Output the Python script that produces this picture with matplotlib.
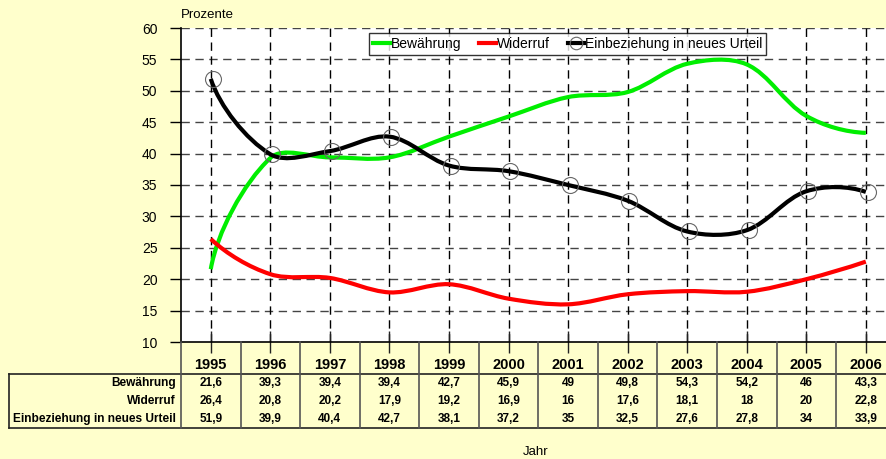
import matplotlib
matplotlib.use('Agg')
import matplotlib.pyplot as plt
from matplotlib.path import Path
from matplotlib.patches import PathPatch
from matplotlib.lines import Line2D
import numpy as np

plt.rcParams['font.family'] = ['Liberation Sans', 'DejaVu Sans']

years = ['1995', '1996', '1997', '1998', '1999', '2000', '2001', '2002', '2003', '2004', '2005', '2006']
bewaehrung = [21.6, 39.3, 39.4, 39.4, 42.7, 45.9, 49, 49.8, 54.3, 54.2, 46, 43.3]
widerruf = [26.4, 20.8, 20.2, 17.9, 19.2, 16.9, 16, 17.6, 18.1, 18, 20, 22.8]
einbeziehung = [51.9, 39.9, 40.4, 42.7, 38.1, 37.2, 35, 32.5, 27.6, 27.8, 34, 33.9]
row_names = ['Bewährung', 'Widerruf', 'Einbeziehung in neues Urteil']
series = [bewaehrung, widerruf, einbeziehung]
colors = ['#00ee00', '#ff0000', '#000000']

bg = '#ffffcc'
W, H = 886, 459
fig = plt.figure(figsize=(W / 100, H / 100), dpi=100, facecolor=bg)

def fx(px):
    return px / W

def fy(py):
    return 1 - py / H

ax = fig.add_axes([fx(181), fy(342), 12 * 59.55 / W, (342 - 28) / H])
ax.set_facecolor('white')
ax.set_xlim(-0.5, 11.5)
ax.set_ylim(10, 60)
ax.set_yticks(range(10, 61, 5))
ax.set_xticks(range(12))
ax.set_xticklabels([])
ax.tick_params(axis='y', direction='out', length=8, width=1, labelsize=10, pad=9)
ax.tick_params(axis='x', direction='inout', length=16, width=1, color='#222222')
for s in ['top', 'right']:
    ax.spines[s].set_visible(False)
ax.spines['left'].set_linewidth(1.2)
ax.spines['bottom'].set_linewidth(1.2)
for y in range(15, 61, 5):
    ax.plot([-0.5, 11.5], [y, y], color='#444444', lw=1, dashes=(6, 4), zorder=1)
for i in range(12):
    ax.plot([i, i], [10, 60], color='black', lw=1, dashes=(6, 4), zorder=1)


def smooth_path(xs, ys):
    # Excel-like smoothed line: bezier built in screen space, then mapped back
    pts = ax.transData.transform(np.column_stack([xs, ys]).astype(float))
    n = len(pts)
    d = np.hypot(*np.diff(pts, axis=0).T)
    c_out = [None] * n
    c_in = [None] * n
    for i in range(1, n - 1):
        t = pts[i + 1] - pts[i - 1]
        s = d[i - 1] + d[i]
        c_out[i] = pts[i] + t * d[i] / s / 3
        c_in[i] = pts[i] - t * d[i - 1] / s / 3

    def mirror(q, a, b):
        u = (b - a) / np.hypot(*(b - a))
        m = (a + b) / 2
        return q - 2 * np.dot(q - m, u) * u

    c_out[0] = mirror(c_in[1], pts[0], pts[1])
    c_in[n - 1] = mirror(c_out[n - 2], pts[n - 2], pts[n - 1])
    verts = [pts[0]]
    codes = [Path.MOVETO]
    for i in range(n - 1):
        verts += [c_out[i], c_in[i + 1], pts[i + 1]]
        codes += [Path.CURVE4] * 3
    verts = ax.transData.inverted().transform(np.array(verts))
    return Path(verts, codes)


x = np.arange(12)
for vals, c in zip(series, colors):
    patch = PathPatch(smooth_path(x, vals), facecolor='none', edgecolor=c,
                      lw=3.0, capstyle='butt', joinstyle='round', zorder=3)
    ax.add_patch(patch)
ax.plot(x + 0.03, einbeziehung, ls='none', marker='o', ms=11.5, mfc='none', mec='#666666', mew=0.8, zorder=4)

handles = [Line2D([], [], color=colors[0], lw=3.0),
           Line2D([], [], color=colors[1], lw=3.0),
           Line2D([], [], color=colors[2], lw=3.0, marker='o', ms=9, mfc='none', mec='#666666', mew=0.8)]
leg = ax.legend(handles, row_names, loc='upper left', bbox_to_anchor=((369 - 181) / 714.6, (342 - 33) / 314),
                ncol=3, fontsize=10, frameon=True, fancybox=False, handlelength=1.2, handletextpad=0.05,
                columnspacing=1.3, borderpad=0.3, borderaxespad=0)
leg.get_frame().set_edgecolor('black')
leg.get_frame().set_linewidth(1)

fig.text(fx(181), fy(15), 'Prozente', fontsize=9.5, ha='left', va='center')
fig.text(fx(536), fy(452), 'Jahr', fontsize=9.5, ha='center', va='center')

# data table under the axis
line_kw = dict(color='#222222', lw=1.2, clip_on=False)
fig.add_artist(Line2D([fx(9), 1], [fy(373.5), fy(373.5)], **line_kw))
fig.add_artist(Line2D([fx(9), 1], [fy(427.5), fy(427.5)], **line_kw))
fig.add_artist(Line2D([fx(9), fx(9)], [fy(373.5), fy(427.5)], **line_kw))
for i in range(13):
    xp = 181 + i * 59.55
    fig.add_artist(Line2D([fx(xp), fx(xp)], [fy(342), fy(427.5)], color='#555555', lw=1.2))

row_y = [383, 401, 419]
for name, yy in zip(row_names, row_y):
    fig.text(fx(176), fy(yy), name, fontsize=8.6, fontweight='bold', ha='right', va='center')
for i, yr in enumerate(years):
    xc = 181 + (i + 0.5) * 59.55
    fig.text(fx(xc), fy(365), yr, fontsize=10.5, fontweight='bold', ha='center', va='center')
    for vals, yy in zip(series, row_y):
        fig.text(fx(xc), fy(yy), ('%g' % vals[i]).replace('.', ','), fontsize=8.5,
                 fontweight='bold', ha='center', va='center')

fig.savefig('out.png', dpi=100, facecolor=bg)
